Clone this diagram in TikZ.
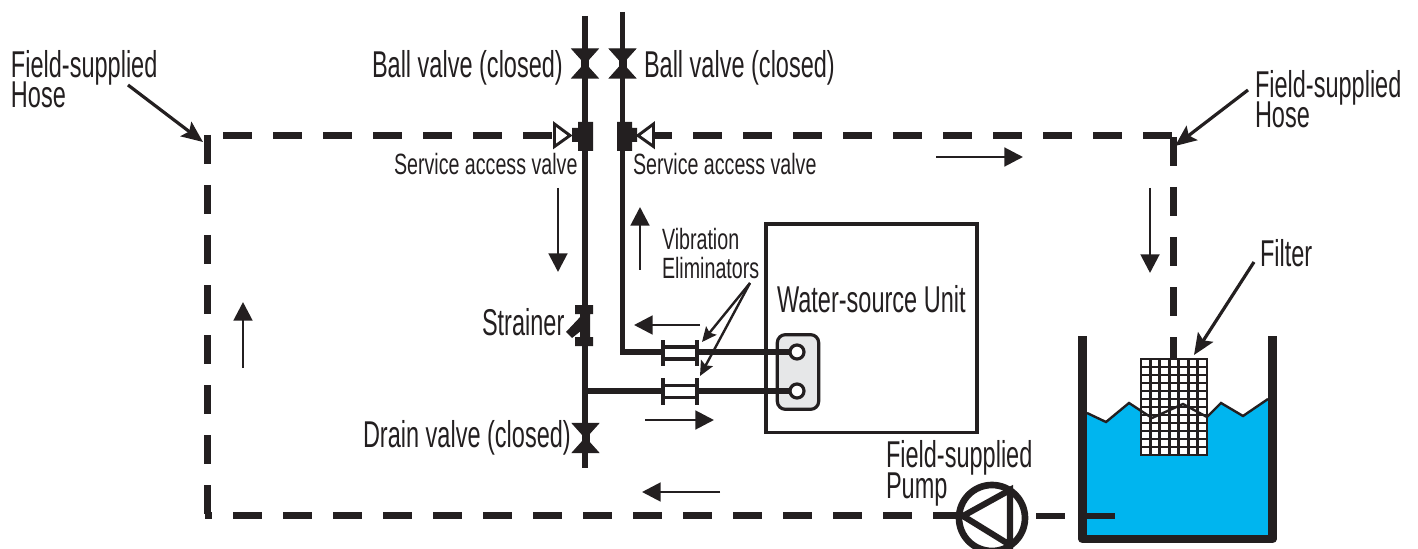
\documentclass[tikz,border=0pt]{standalone}
\usepackage{fontspec}
\setmainfont[FakeStretch=0.63]{Liberation Sans}
\newfontfamily\smallf[FakeStretch=0.67]{Liberation Sans}
\usetikzlibrary{arrows.meta,calc}
\definecolor{ink}{HTML}{231F20}
\definecolor{water}{HTML}{00B5EF}
\definecolor{panel}{HTML}{E6E7E8}
\newcommand\tightlines{\lineskiplimit-30pt\relax}
\tikzset{
 txt/.style={inner sep=0pt,outer sep=0pt,anchor=base west,text=ink,align=left,font=\fontsize{28}{23.2}\selectfont\tightlines},
 txts/.style={txt,font=\smallf\fontsize{22}{21.75}\selectfont\tightlines},
 pipe/.style={draw=ink,line width=4.2pt},
 hose/.style={draw=ink,line width=5.2pt,dash pattern=on 21.75pt off 15.75pt},
 hosesolid/.style={draw=ink,line width=5.2pt},
 flow/.style={draw=ink,line width=2.2pt,-{Stealth[length=14pt,width=14pt,inset=0pt]}},
 lead/.style={draw=ink,line width=2.4pt,-{Stealth[length=16pt,width=13.5pt,inset=3pt]}},
 leadthin/.style={draw=ink,line width=1.8pt,-{Stealth[length=11pt,width=10pt,inset=2pt]}},
 rail/.style={draw=ink,line width=2.4pt},
}
\begin{document}
\begin{tikzpicture}[x=0.75pt,y=-0.75pt]
\useasboundingbox (0,0) rectangle (1418,549);
% coordinates
\coordinate (ltop) at (585,16);
\coordinate (rtop) at (622.5,12);
\coordinate (lbot) at (585,468);
\coordinate (tee) at (585,391);
\coordinate (relbow) at (622.5,352);
\coordinate (portA) at (797,352);
\coordinate (portB) at (797,391);
\coordinate (ve1l) at (663,352);
\coordinate (ve1r) at (697,352);
\coordinate (ve2l) at (663,391);
\coordinate (ve2r) at (697,391);
\coordinate (cTL) at (207.5,135);
\coordinate (cBL) at (207.5,515.5);
\coordinate (hTLs) at (223,135.5);
\coordinate (sL) at (554,135.5);
\coordinate (sR) at (654,135.5);
\coordinate (cTR) at (1176.5,135.5);
\coordinate (vTR) at (1173.5,137);
\coordinate (hBLs) at (233,515.5);
\coordinate (pumpL) at (956,515.5);
\coordinate (pumpR) at (1036,516);
\coordinate (filtTop) at (1173.5,358);
% water
\fill[water] (1087,413) -- (1106,422) -- (1129,403) -- (1152,418) -- (1183,404) -- (1207,417) -- (1221,403) -- (1243,416) -- (1268,399) -- (1268,535) -- (1087,535) -- cycle;
% filter
\fill[white] (1141,359) rectangle (1207,455);
\foreach \k in {1,...,6}{\draw[ink,line width=2.2pt] ({1141+\k*9.43},359) -- ({1141+\k*9.43},455);}
\foreach \k in {1,...,11}{\draw[ink,line width=2.2pt] (1141,{359+\k*8}) -- (1207,{359+\k*8});}
\draw[ink,line width=2.2pt] (1141,359) rectangle (1207,455);
\draw[ink,line width=1.8pt] (1087,413) -- (1106,422) -- (1129,403) -- (1152,418) -- (1183,404) -- (1207,417) -- (1221,403) -- (1243,416) -- (1268,399);
% tank
\draw[ink,line width=6.6pt,line join=round] (1082.5,336) -- (1082.5,539) -- (1272.5,539) -- (1272.5,336);
% unit
\node[draw=ink,line width=2.4pt,outer sep=0pt,minimum width=158.25pt,minimum height=156.4pt,inner sep=0pt,anchor=north west] (unit) at (766,224) {};
% pipes
\draw[pipe] (ltop) -- (lbot);
\draw[pipe] (rtop) -- (relbow) -- (ve1l);
\draw[pipe] (tee) -- (ve2l);
% panel
\node[draw=ink,fill=panel,line width=2.4pt,outer sep=0pt,rounded corners=6pt,minimum width=31pt,minimum height=56pt,inner sep=0pt] (panelbox) at (798,372) {};
\draw[pipe] (ve1r) -- (portA);
\draw[pipe] (ve2r) -- (portB);
\node[circle,draw=ink,fill=white,line width=2.4pt,minimum size=10.5pt,inner sep=0pt] (pA) at (portA) {};
\node[circle,draw=ink,fill=white,line width=2.4pt,minimum size=10.5pt,inner sep=0pt] (pB) at (portB) {};
% vibration eliminators
\draw[rail] (663,340) -- (663,366) (697,340) -- (697,366) (663,347) -- (697,347) (663,359) -- (697,359);
\draw[rail] (663,378) -- (663,405) (697,378) -- (697,405) (663,385.5) -- (697,385.5) (663,397.5) -- (697,397.5);
% ball valves
\foreach \cx/\cy in {585/63.5,622.5/63.5,585.5/438}{
 \filldraw[ink,line width=0.8pt,line join=miter] (\cx-13,\cy-14.5) -- (\cx+13,\cy-14.5) -- (\cx-13,\cy+14.5) -- (\cx+13,\cy+14.5) -- cycle;
 \fill[ink] (\cx-4,\cy-5) rectangle (\cx+4,\cy+5);
}
% service blocks
\fill[ink] (578,122) rectangle (593,151) (572,128) rectangle (593,142);
\fill[ink] (617,122) rectangle (632,151) (617,128) rectangle (637,142);
\draw[ink,line width=2.2pt,fill=white,line join=miter] (554.5,124) -- (570,135.5) -- (554.5,146.5) -- cycle;
\draw[ink,line width=2.2pt,fill=white,line join=miter] (653.5,124) -- (638,135.5) -- (653.5,146.5) -- cycle;
% strainer
\fill[ink] (575,305) rectangle (593,314) (575,337) rectangle (593,346) (580,314) rectangle (590,337);
\fill[ink] (582,315) -- (566,332) -- (572,338) -- (582,330) -- cycle;
% hoses
\draw[hose] (hTLs) -- (sL);
\draw[hose] (cTL) -- (cBL);
\draw[hosesolid] (205,515.5) -- (212,515.5);
\draw[hose] (hBLs) -- (pumpL);
\draw[hose,dash phase=8.25pt] (sR) -- (cTR);
\draw[hose] (vTR) -- (filtTop);
\draw[hosesolid] (pumpR) -- (1065,516);
\draw[hosesolid] (1087,516) -- (1115,516);
% pump
\node[circle,draw=ink,fill=white,line width=5pt,minimum size=49.5pt,inner sep=0pt] (pump) at (992,518) {};
\draw[ink,line width=4.6pt,line join=miter] (963,516) -- (1010,490) -- (1010,545) -- cycle;
% flow arrows
\coordinate (fa1) at (558,188); \coordinate (fb1) at (558,272);
\coordinate (fa2) at (640,270); \coordinate (fb2) at (640,207);
\coordinate (fa3) at (243,368); \coordinate (fb3) at (243,302);
\coordinate (fa4) at (1150,188); \coordinate (fb4) at (1150,273);
\coordinate (fa5) at (936,157); \coordinate (fb5) at (1023,157);
\coordinate (fa6) at (700,325); \coordinate (fb6) at (634,325);
\coordinate (fa7) at (645,420); \coordinate (fb7) at (714,420);
\coordinate (fa8) at (720,492); \coordinate (fb8) at (642,492);
\foreach \i in {1,...,8}{\draw[flow] (fa\i) -- (fb\i);}
% texts
\node[txt] (hoseL) at (11,108) {Field-supplied\\Hose};
\node[txt] (hoseR) at (1255,128) {Field-supplied\\Hose};
\node[txt] (ballL) at (372,77.5) {Ball valve (closed)};
\node[txt] (ballR) at (644,77.5) {Ball valve (closed)};
\node[txts] (servL) at (394,175) {Service access valve};
\node[txts] (servR) at (633,175) {Service access valve};
\node[txts] (vib) at (662,278) {Vibration\\Eliminators};
\node[txt] (wsu) at (777,312) {Water-source Unit};
\node[txt] (str) at (482,335.5) {Strainer};
\node[txt] (drain) at (363,447.5) {Drain valve (closed)};
\node[txt] (pumptxt) at (886,498) {Field-supplied\\Pump};
\node[txt] (filt) at (1260,267) {Filter};
% leaders
\coordinate (vibApex) at (750,283);
\draw[lead] (128,85) -- (203,142);
\draw[lead] (1248,90) -- (1175,146);
\draw[lead] (1254,262) -- (1194,355);
\draw[leadthin] (vibApex) -- (702,342);
\draw[leadthin] (vibApex) -- (700,376);
\end{tikzpicture}
\end{document}
